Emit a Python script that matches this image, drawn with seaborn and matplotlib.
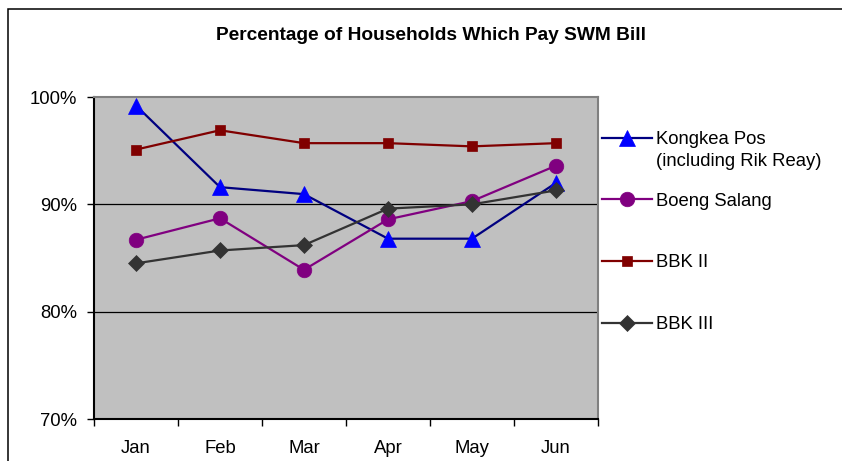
import matplotlib
matplotlib.use("Agg")
import matplotlib.pyplot as plt
import matplotlib.patches as mpatches
from matplotlib.ticker import FuncFormatter, FixedLocator
import pandas as pd
import seaborn as sns

months = ["Jan", "Feb", "Mar", "Apr", "May", "Jun"]
kongkea = [99.2, 91.6, 90.95, 86.8, 86.8, 92.0]
boeng = [86.7, 88.7, 83.9, 88.6, 90.3, 93.6]
bbk2 = [95.1, 96.9, 95.7, 95.7, 95.4, 95.7]
bbk3 = [84.5, 85.7, 86.2, 89.6, 90.0, 91.3]
series_names = ["Kongkea Pos", "Boeng Salang", "BBK II", "BBK III"]
y_ticks = [70, 80, 90, 100]

plt.rcParams['font.family'] = ['Liberation Sans', 'DejaVu Sans']

df = pd.DataFrame({"month": months * 4,
                   "x": list(range(len(months))) * 4,
                   "value": kongkea + boeng + bbk2 + bbk3,
                   "series": sum([[s] * len(months) for s in series_names], [])})

# line colour, marker, marker colour, marker size
styles = {
    "Kongkea Pos": ("#000080", "^", "#0000FF", 11),
    "Boeng Salang": ("#800080", "o", "#800080", 10.5),
    "BBK II": ("#800000", "s", "#800000", 6.5),
    "BBK III": ("#333333", "D", "#333333", 8.5),
}

fs = 13.3

fig = plt.figure(figsize=(8.42, 4.61), dpi=100)
ax = fig.add_axes([94 / 842, 42 / 461, 504 / 842, 322 / 461])
ax.set_facecolor("#C0C0C0")

for name in series_names:
    lc, mk, mc, ms = styles[name]
    sub = df[df["series"] == name]
    sns.lineplot(data=sub, x="x", y="value", ax=ax, color=lc, lw=1.6,
                 marker=mk, markersize=ms, markerfacecolor=mc,
                 markeredgecolor=mc, markeredgewidth=0.5, label=name,
                 legend=False)

ax.set_xlim(-0.5, len(months) - 0.5)
ax.set_ylim(70, 100)
ax.yaxis.set_major_locator(FixedLocator(y_ticks))
ax.yaxis.set_major_formatter(FuncFormatter(lambda v, p: f"{v:.0f}%"))
ax.set_xticks(range(len(months)))
ax.set_xticklabels(months)
ax.set_xticks([i - 0.5 for i in range(len(months) + 1)], minor=True)
ax.tick_params(axis="x", which="major", length=0, pad=15, labelsize=fs)
ax.tick_params(axis="x", which="minor", length=5, width=1, direction="out")
ax.tick_params(axis="y", length=5, width=1, direction="out", pad=7, labelsize=fs)
ax.set_xlabel("")
ax.set_ylabel("")

for v in y_ticks[1:-1]:
    ax.axhline(v, color="black", lw=0.9, zorder=1)

ax.spines["left"].set_color("black")
ax.spines["bottom"].set_color("black")
ax.spines["top"].set_color("#808080")
ax.spines["right"].set_color("#808080")
for s in ax.spines.values():
    s.set_linewidth(1.5)

fig.text(431 / 842, 1 - 35 / 461, "Percentage of Households Which Pay SWM Bill",
         ha="center", va="center", fontsize=13.8, fontweight="bold")

handles = ax.get_lines()[:4]
leg = fig.legend(handles, series_names, loc="upper left",
                 bbox_to_anchor=(602 / 842, 1 - 131 / 461), frameon=False,
                 fontsize=fs, handlelength=2.7, handletextpad=0.25,
                 borderpad=0, borderaxespad=0, labelspacing=2.42)

# second line of the first legend label sits under the first line
fig.canvas.draw()
bb = leg.get_texts()[0].get_window_extent()
fig.text(bb.x0 / 842, (bb.y0 - 5) / 461, "(including Rik Reay)",
         ha="left", va="top", fontsize=fs)

fig.add_artist(mpatches.Rectangle((8 / 842, -0.1), 1.2, 0.1 + 1 - 9 / 461,
                                  transform=fig.transFigure, fill=False,
                                  edgecolor="black", lw=1.1))

fig.savefig("out.png", dpi=100, facecolor="white")
